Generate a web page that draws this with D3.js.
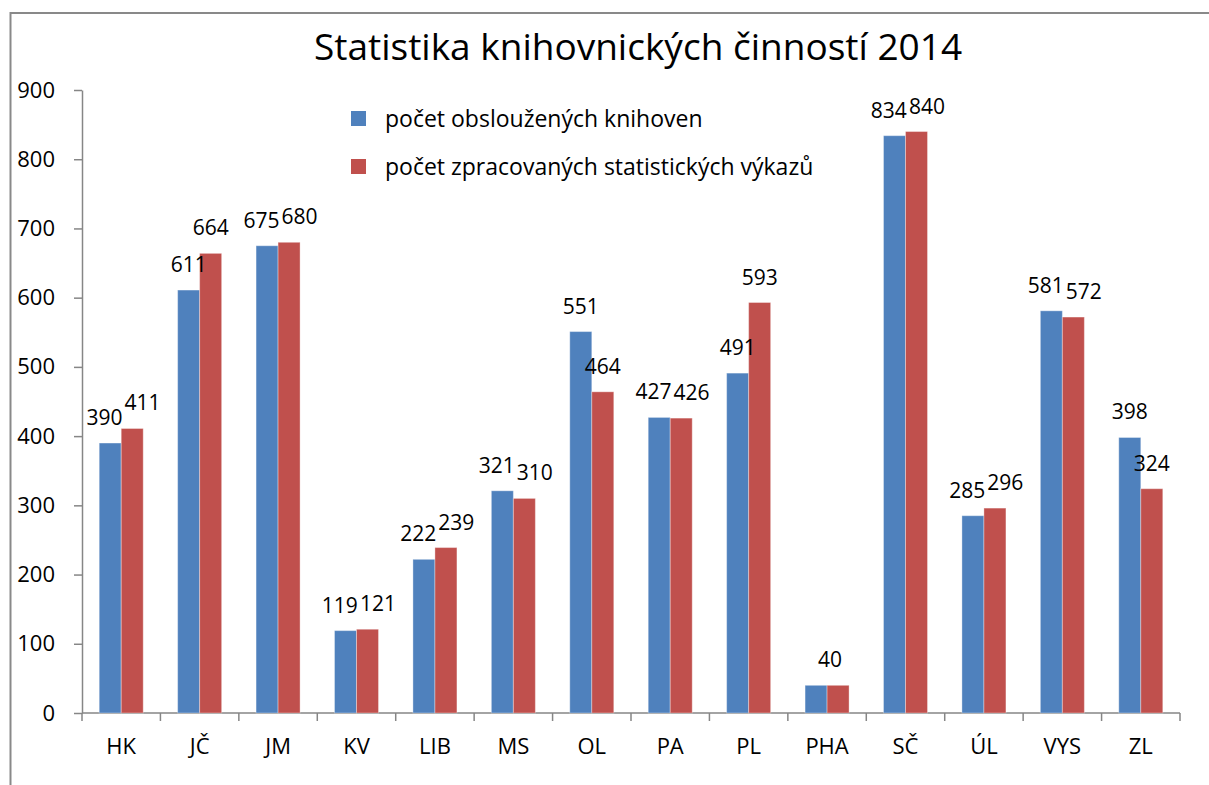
<!DOCTYPE html>
<html>
<head>
<meta charset="utf-8">
<script src="https://cdn.jsdelivr.net/npm/d3@7"></script>
<style>
  body { margin: 0; background: #fff; }
  svg { display: block; font-family: 'Open Sans', sans-serif; }
  .domain, .tick line { stroke: #868686; stroke-width: 1.5; }
</style>
</head>
<body>
<svg id="chart" width="1209" height="785"></svg>
<script>
// data
const title = 'Statistika knihovnických činností 2014'
const regions = [ 'HK', 'JČ', 'JM', 'KV', 'LIB', 'MS', 'OL', 'PA', 'PL', 'PHA', 'SČ', 'ÚL', 'VYS', 'ZL' ]
const servedLibraries = [ 390, 611, 675, 119, 222, 321, 551, 427, 491, 40, 834, 285, 581, 398 ]
const processedReports = [ 411, 664, 680, 121, 239, 310, 464, 426, 593, 40, 840, 296, 572, 324 ]
const seriesNames = [ 'počet obsloužených knihoven', 'počet zpracovaných statistických výkazů' ]
const yTicks = [ 0, 100, 200, 300, 400, 500, 600, 700, 800, 900 ]

const colors = [ '#4F81BD', '#C0504D' ]
const BAR_W = 22
const LABEL_SIZE = 21

const svg = d3.select('#chart')

// outer frame of the chart area (runs past the window at right and bottom)
svg.append('rect')
  .attr('x', 10.5).attr('y', 13)
  .attr('width', 1300).attr('height', 900)
  .attr('fill', 'none')
  .attr('stroke', '#898989')
  .attr('stroke-width', 2)

const margin = { left: 82, right: 1180, top: 90, bottom: 713 }

const x = d3.scaleBand()
  .domain(regions)
  .range([ margin.left, margin.right ])

const y = d3.scaleLinear()
  .domain([ 0, 900 ])
  .range([ margin.bottom, margin.top ])

// y axis
const yAxis = svg.append('g')
  .attr('transform', 'translate(' + margin.left + ',0)')
  .call(d3.axisLeft(y).tickValues(yTicks).tickSize(8).tickSizeOuter(0).tickPadding(19))
yAxis.selectAll('text')
  .attr('font-size', 22)
  .attr('fill', '#000')
  .attr('font-family', 'Open Sans, sans-serif')

// x axis: ticks at category boundaries
const xAxis = svg.append('g')
  .attr('transform', 'translate(0,' + margin.bottom + ')')
xAxis.append('path')
  .attr('class', 'domain')
  .attr('d', 'M' + margin.left + ',0H' + margin.right)
const boundaries = regions.map(function (r) { return x(r) }).concat([ margin.right ])
xAxis.selectAll('.tick-b')
  .data(boundaries)
  .enter().append('line')
  .attr('class', 'tick-b')
  .attr('x1', function (d) { return d }).attr('x2', function (d) { return d })
  .attr('y1', 0).attr('y2', 8)
  .attr('stroke', '#868686').attr('stroke-width', 1.5)
xAxis.selectAll('.cat')
  .data(regions)
  .enter().append('text')
  .attr('class', 'cat')
  .attr('x', function (d) { return x(d) + x.bandwidth() / 2 })
  .attr('y', 41)
  .attr('text-anchor', 'middle')
  .attr('font-size', 22)
  .text(function (d) { return d })

// bars
const series = [ servedLibraries, processedReports ]
function barCenter (i, s) {
  return x(regions[i]) + x.bandwidth() / 2 - BAR_W / 2 + s * BAR_W
}
series.forEach(function (values, s) {
  const g = svg.append('g')
  g.selectAll('rect')
    .data(values)
    .enter().append('rect')
    .attr('x', function (d, i) { return barCenter(i, s) - BAR_W / 2 })
    .attr('y', function (d) { return y(d) })
    .attr('width', BAR_W)
    .attr('height', function (d) { return y(0) - y(d) })
    .attr('fill', colors[s])
    .attr('stroke', '#fff')
    .attr('stroke-opacity', 0.35)
    .attr('stroke-width', 1)
})

// data labels, centred over the bars, then pushed apart where the pair collides
const labelGroups = series.map(function (values, s) {
  return svg.append('g').selectAll('text')
    .data(values)
    .enter().append('text')
    .attr('x', function (d, i) { return barCenter(i, s) })
    .attr('y', function (d) { return y(d) - 18 })
    .attr('text-anchor', 'middle')
    .attr('font-size', LABEL_SIZE)
    .text(function (d) { return d })
    .nodes()
})

regions.forEach(function (r, i) {
  const a = labelGroups[0][i]
  const b = labelGroups[1][i]
  const center = x(r) + x.bandwidth() / 2
  if (servedLibraries[i] === processedReports[i]) {
    // same value: the labels coincide, only one is seen
    d3.select(a).attr('x', center + 3).attr('fill-opacity', 0)
    d3.select(b).attr('x', center + 3)
    return
  }
  const dy = Math.abs(y(servedLibraries[i]) - y(processedReports[i]))
  if (dy >= LABEL_SIZE * 0.72) return
  const wa = a.getComputedTextLength()
  const wb = b.getComputedTextLength()
  const need = (wa + wb) / 2 - BAR_W + 2
  if (need <= 0) return
  d3.select(a).attr('x', barCenter(i, 0) - need * 0.35)
  d3.select(b).attr('x', barCenter(i, 1) + need * 0.65)
})

// title
svg.append('text')
  .attr('x', 638)
  .attr('y', 60)
  .attr('text-anchor', 'middle')
  .attr('font-size', 37)
  .text(title)

// legend
const legend = svg.append('g')
seriesNames.forEach(function (name, i) {
  legend.append('rect')
    .attr('x', 351).attr('y', 111 + i * 48)
    .attr('width', 15).attr('height', 15)
    .attr('fill', colors[i])
  legend.append('text')
    .attr('x', 385).attr('y', 127 + i * 48)
    .attr('font-size', 23)
    .text(name)
})
</script>
</body>
</html>
